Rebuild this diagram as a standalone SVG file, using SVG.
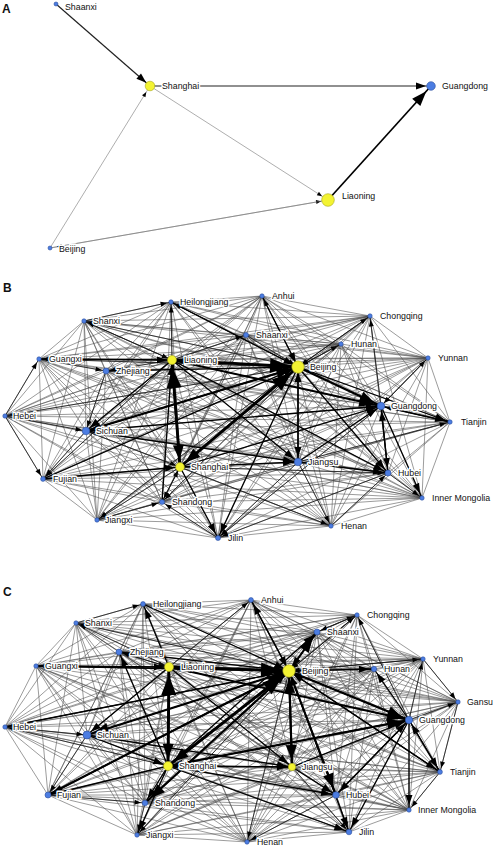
<svg xmlns="http://www.w3.org/2000/svg" width="493" height="850" viewBox="0 0 493 850">
<style>
text{font-family:"Liberation Sans",Arial,sans-serif;font-size:8.8px;fill:#111;paint-order:stroke;stroke:#fff;stroke-width:2.8px;stroke-linejoin:round}
.p{font-size:12px;font-weight:bold;stroke:none}
.y{fill:#f3f332;stroke:#a6a61e;stroke-width:0.6}
.b{fill:#4c7de2;stroke:#2c4f9c;stroke-width:0.6}
.thin{fill:none;stroke:#4a4a4a;stroke-width:0.55}
path.e1,path.e2,path.e3,path.e4,path.a1,path.a2,path.a3{fill:none}
.a1{stroke:#777;stroke-width:0.6;marker-end:url(#aA)}
.a2{stroke:#222;stroke-width:1.2;marker-end:url(#aM)}
.a3{stroke:#000;stroke-width:1.7;marker-end:url(#aL)}
.e1{stroke:#111;stroke-width:0.75;marker-end:url(#aS)}
.e2{stroke:#000;stroke-width:1.3;marker-end:url(#aM)}
.e3{stroke:#000;stroke-width:2.1;marker-end:url(#aL)}
.e4{stroke:#000;stroke-width:2.9;marker-end:url(#aX)}
</style>
<defs>
<marker id="aA" markerUnits="userSpaceOnUse" markerWidth="14" markerHeight="6" refX="12" refY="2" orient="auto" overflow="visible"><path d="M0 0L5 2L0 4z" fill="#000"/></marker>
<marker id="aS" markerUnits="userSpaceOnUse" markerWidth="14" markerHeight="6" refX="10.5" refY="2.5" orient="auto" overflow="visible"><path d="M0 0L6.5 2.5L0 5z" fill="#000"/></marker>
<marker id="aM" markerUnits="userSpaceOnUse" markerWidth="16" markerHeight="8" refX="15" refY="3.5" orient="auto" overflow="visible"><path d="M0 0L10 3.5L0 7z" fill="#000"/></marker>
<marker id="aL" markerUnits="userSpaceOnUse" markerWidth="24" markerHeight="12" refX="22" refY="5.5" orient="auto" overflow="visible"><path d="M0 0L15 5.5L0 11z" fill="#000"/></marker>
<marker id="aX" markerUnits="userSpaceOnUse" markerWidth="30" markerHeight="16" refX="28" refY="7.5" orient="auto" overflow="visible"><path d="M0 0L20 7.5L0 15z" fill="#000"/></marker>
</defs>
<rect width="493" height="850" fill="#fff"/>

<text class="p" x="2" y="13">A</text>
<text class="p" x="3" y="292">B</text>
<text class="p" x="3" y="596">C</text>

<g id="connectors-A">
<path class="a1" d="M150 86L328 200"/>
<path class="a1" d="M50 248L150 86"/>
<path class="a1" d="M50 248L328 200"/>
<path class="a1" d="M328 200L50 248"/>
<path class="a2" d="M56 4L150 86"/>
<path class="a2" d="M150 86L431 86"/>
<path class="a3" d="M328 200L431 86"/>
</g>

<g id="connectors-B">
<path class="thin" d="M171 302 262 296M171 302 84 321M171 302 370 316M171 302 246 335M171 302 341 344M171 302 39 359M171 302 172 360M171 302 298 367M171 302 428 358M171 302 106 371M171 302 381 406M171 302 5 416M171 302 450 422M171 302 86 431M171 302 298 462M171 302 180 467M171 302 388 473M171 302 43 479M171 302 422 498M171 302 162 502M171 302 97 520M171 302 331 526M171 302 218 538
M262 296 84 321M262 296 370 316M262 296 246 335M262 296 341 344M262 296 39 359M262 296 172 360M262 296 298 367M262 296 428 358M262 296 106 371M262 296 381 406M262 296 5 416M262 296 450 422M262 296 86 431M262 296 298 462M262 296 180 467M262 296 388 473M262 296 43 479M262 296 422 498M262 296 162 502M262 296 97 520M262 296 331 526M262 296 218 538
M84 321 370 316M84 321 246 335M84 321 341 344M84 321 39 359M84 321 172 360M84 321 298 367M84 321 428 358M84 321 106 371M84 321 381 406M84 321 5 416M84 321 450 422M84 321 86 431M84 321 298 462M84 321 180 467M84 321 388 473M84 321 43 479M84 321 422 498M84 321 162 502M84 321 97 520M84 321 331 526M84 321 218 538
M370 316 246 335M370 316 341 344M370 316 39 359M370 316 172 360M370 316 298 367M370 316 428 358M370 316 106 371M370 316 381 406M370 316 5 416M370 316 450 422M370 316 86 431M370 316 298 462M370 316 180 467M370 316 388 473M370 316 43 479M370 316 422 498M370 316 162 502M370 316 97 520M370 316 331 526M370 316 218 538
M246 335 341 344M246 335 39 359M246 335 172 360M246 335 298 367M246 335 428 358M246 335 106 371M246 335 381 406M246 335 5 416M246 335 450 422M246 335 86 431M246 335 298 462M246 335 180 467M246 335 388 473M246 335 43 479M246 335 422 498M246 335 162 502M246 335 97 520M246 335 331 526M246 335 218 538
M341 344 39 359M341 344 172 360M341 344 298 367M341 344 428 358M341 344 106 371M341 344 381 406M341 344 5 416M341 344 450 422M341 344 86 431M341 344 298 462M341 344 180 467M341 344 388 473M341 344 43 479M341 344 422 498M341 344 162 502M341 344 97 520M341 344 331 526M341 344 218 538
M39 359 172 360M39 359 298 367M39 359 428 358M39 359 106 371M39 359 381 406M39 359 5 416M39 359 450 422M39 359 86 431M39 359 298 462M39 359 180 467M39 359 388 473M39 359 43 479M39 359 422 498M39 359 162 502M39 359 97 520M39 359 331 526M39 359 218 538
M172 360 298 367M172 360 428 358M172 360 106 371M172 360 381 406M172 360 5 416M172 360 450 422M172 360 86 431M172 360 298 462M172 360 180 467M172 360 388 473M172 360 43 479M172 360 422 498M172 360 162 502M172 360 97 520M172 360 331 526M172 360 218 538
M298 367 428 358M298 367 106 371M298 367 381 406M298 367 5 416M298 367 450 422M298 367 86 431M298 367 298 462M298 367 180 467M298 367 388 473M298 367 43 479M298 367 422 498M298 367 162 502M298 367 97 520M298 367 331 526M298 367 218 538
M428 358 106 371M428 358 381 406M428 358 5 416M428 358 450 422M428 358 86 431M428 358 298 462M428 358 180 467M428 358 388 473M428 358 43 479M428 358 422 498M428 358 162 502M428 358 97 520M428 358 331 526M428 358 218 538
M106 371 381 406M106 371 5 416M106 371 450 422M106 371 86 431M106 371 298 462M106 371 180 467M106 371 388 473M106 371 43 479M106 371 422 498M106 371 162 502M106 371 97 520M106 371 331 526M106 371 218 538
M381 406 5 416M381 406 450 422M381 406 86 431M381 406 298 462M381 406 180 467M381 406 388 473M381 406 43 479M381 406 422 498M381 406 162 502M381 406 97 520M381 406 331 526M381 406 218 538
M5 416 450 422M5 416 86 431M5 416 298 462M5 416 180 467M5 416 388 473M5 416 43 479M5 416 422 498M5 416 162 502M5 416 97 520M5 416 331 526M5 416 218 538
M450 422 86 431M450 422 298 462M450 422 180 467M450 422 388 473M450 422 43 479M450 422 422 498M450 422 162 502M450 422 97 520M450 422 331 526M450 422 218 538
M86 431 298 462M86 431 180 467M86 431 388 473M86 431 43 479M86 431 422 498M86 431 162 502M86 431 97 520M86 431 331 526M86 431 218 538
M298 462 180 467M298 462 388 473M298 462 43 479M298 462 422 498M298 462 162 502M298 462 97 520M298 462 331 526M298 462 218 538
M180 467 388 473M180 467 43 479M180 467 422 498M180 467 162 502M180 467 97 520M180 467 331 526M180 467 218 538
M388 473 43 479M388 473 422 498M388 473 162 502M388 473 97 520M388 473 331 526M388 473 218 538
M43 479 422 498M43 479 162 502M43 479 97 520M43 479 331 526M43 479 218 538
M422 498 162 502M422 498 97 520M422 498 331 526M422 498 218 538
M162 502 97 520M162 502 331 526M162 502 218 538M97 520 331 526M97 520 218 538M331 526 218 538"/>
<path class="e1" d="M172 360L171 302"/><path class="e1" d="M298 367L262 296"/><path class="e1" d="M298 367L84 321"/><path class="e1" d="M172 360L39 359"/><path class="e1" d="M172 360L106 371"/><path class="e1" d="M298 367L5 416"/><path class="e1" d="M86 431L43 479"/><path class="e1" d="M298 367L162 502"/><path class="e1" d="M180 467L97 520"/><path class="e1" d="M298 367L370 316"/><path class="e1" d="M298 367L341 344"/><path class="e1" d="M381 406L428 358"/><path class="e1" d="M172 360L246 335"/><path class="e1" d="M298 462L331 526"/><path class="e1" d="M180 467L331 526"/><path class="e1" d="M388 473L422 498"/><path class="e1" d="M180 467L388 473"/><path class="e1" d="M84 321L172 360"/><path class="e1" d="M5 416L86 431"/><path class="e1" d="M246 335L298 367"/><path class="e1" d="M341 344L298 367"/><path class="e1" d="M370 316L298 367"/><path class="e1" d="M298 462L450 422"/><path class="e1" d="M86 431L180 467"/><path class="e1" d="M381 406L218 538"/><path class="e1" d="M388 473L218 538"/><path class="e1" d="M450 422L381 406"/><path class="e1" d="M428 358L381 406"/><path class="e1" d="M106 371L86 431"/><path class="e1" d="M162 502L180 467"/><path class="e1" d="M97 520L162 502"/><path class="e1" d="M39 359L106 371"/><path class="e1" d="M84 321L171 302"/><path class="e1" d="M331 526L388 473"/><path class="e1" d="M218 538L162 502"/><path class="e1" d="M5 416L43 479"/><path class="e1" d="M5 416L39 359"/><path class="e1" d="M298 367L97 520"/><path class="e1" d="M172 360L43 479"/><path class="e1" d="M298 367L39 359"/><path class="e1" d="M381 406L370 316"/><path class="e1" d="M298 462L218 538"/><path class="e1" d="M172 360L84 321"/><path class="e1" d="M298 367L171 302"/><path class="e1" d="M180 467L162 502"/>
<path class="e2" d="M298 367L298 462"/><path class="e2" d="M298 462L298 367"/><path class="e2" d="M298 367L450 422"/><path class="e2" d="M298 367L388 473"/><path class="e2" d="M381 406L388 473"/><path class="e2" d="M388 473L381 406"/><path class="e2" d="M180 467L381 406"/><path class="e2" d="M180 467L298 462"/><path class="e2" d="M86 431L298 462"/><path class="e2" d="M298 367L86 431"/><path class="e2" d="M172 360L86 431"/><path class="e2" d="M106 371L298 367"/><path class="e2" d="M171 302L298 367"/><path class="e2" d="M43 479L298 367"/><path class="e2" d="M39 359L172 360"/><path class="e2" d="M162 502L172 360"/><path class="e2" d="M298 367L172 360"/><path class="e2" d="M298 462L388 473"/><path class="e2" d="M381 406L450 422"/><path class="e2" d="M172 360L388 473"/><path class="e2" d="M298 367L218 538"/><path class="e2" d="M180 467L218 538"/><path class="e2" d="M262 296L298 367"/><path class="e2" d="M381 406L422 498"/><path class="e2" d="M172 360L298 462"/><path class="e2" d="M298 462L381 406"/><path class="e2" d="M86 431L381 406"/><path class="e2" d="M43 479L180 467"/>
<path class="e3" d="M172 360L180 467"/><path class="e3" d="M298 367L180 467"/><path class="e3" d="M298 367L381 406"/><path class="e3" d="M172 360L381 406"/><path class="e3" d="M86 431L298 367"/>
<path class="e4" d="M180 467L172 360"/><path class="e4" d="M172 360L298 367"/><path class="e4" d="M180 467L298 367"/>
</g>

<g id="connectors-C">
<path class="thin" d="M143 604 251 600M143 604 76 623M143 604 357 615M143 604 317 632M143 604 119 652M143 604 423 659M143 604 36 666M143 604 169 667M143 604 374 669M143 604 289 671M143 604 458 702M143 604 409 720M143 604 5 727M143 604 87 735M143 604 292 767M143 604 168 766M143 604 440 772M143 604 48 795M143 604 336 795M143 604 145 803M143 604 409 810M143 604 349 832M143 604 137 835M143 604 247 842
M251 600 76 623M251 600 357 615M251 600 317 632M251 600 119 652M251 600 423 659M251 600 36 666M251 600 169 667M251 600 374 669M251 600 289 671M251 600 458 702M251 600 409 720M251 600 5 727M251 600 87 735M251 600 292 767M251 600 168 766M251 600 440 772M251 600 48 795M251 600 336 795M251 600 145 803M251 600 409 810M251 600 349 832M251 600 137 835M251 600 247 842
M76 623 357 615M76 623 317 632M76 623 119 652M76 623 423 659M76 623 36 666M76 623 169 667M76 623 374 669M76 623 289 671M76 623 458 702M76 623 409 720M76 623 5 727M76 623 87 735M76 623 292 767M76 623 168 766M76 623 440 772M76 623 48 795M76 623 336 795M76 623 145 803M76 623 409 810M76 623 349 832M76 623 137 835M76 623 247 842
M357 615 317 632M357 615 119 652M357 615 423 659M357 615 36 666M357 615 169 667M357 615 374 669M357 615 289 671M357 615 458 702M357 615 409 720M357 615 5 727M357 615 87 735M357 615 292 767M357 615 168 766M357 615 440 772M357 615 48 795M357 615 336 795M357 615 145 803M357 615 409 810M357 615 349 832M357 615 137 835M357 615 247 842
M317 632 119 652M317 632 423 659M317 632 36 666M317 632 169 667M317 632 374 669M317 632 289 671M317 632 458 702M317 632 409 720M317 632 5 727M317 632 87 735M317 632 292 767M317 632 168 766M317 632 440 772M317 632 48 795M317 632 336 795M317 632 145 803M317 632 409 810M317 632 349 832M317 632 137 835M317 632 247 842
M119 652 423 659M119 652 36 666M119 652 169 667M119 652 374 669M119 652 289 671M119 652 458 702M119 652 409 720M119 652 5 727M119 652 87 735M119 652 292 767M119 652 168 766M119 652 440 772M119 652 48 795M119 652 336 795M119 652 145 803M119 652 409 810M119 652 349 832M119 652 137 835M119 652 247 842
M423 659 36 666M423 659 169 667M423 659 374 669M423 659 289 671M423 659 458 702M423 659 409 720M423 659 5 727M423 659 87 735M423 659 292 767M423 659 168 766M423 659 440 772M423 659 48 795M423 659 336 795M423 659 145 803M423 659 409 810M423 659 349 832M423 659 137 835M423 659 247 842
M36 666 169 667M36 666 374 669M36 666 289 671M36 666 458 702M36 666 409 720M36 666 5 727M36 666 87 735M36 666 292 767M36 666 168 766M36 666 440 772M36 666 48 795M36 666 336 795M36 666 145 803M36 666 409 810M36 666 349 832M36 666 137 835M36 666 247 842
M169 667 374 669M169 667 289 671M169 667 458 702M169 667 409 720M169 667 5 727M169 667 87 735M169 667 292 767M169 667 168 766M169 667 440 772M169 667 48 795M169 667 336 795M169 667 145 803M169 667 409 810M169 667 349 832M169 667 137 835M169 667 247 842
M374 669 289 671M374 669 458 702M374 669 409 720M374 669 5 727M374 669 87 735M374 669 292 767M374 669 168 766M374 669 440 772M374 669 48 795M374 669 336 795M374 669 145 803M374 669 409 810M374 669 349 832M374 669 137 835M374 669 247 842
M289 671 458 702M289 671 409 720M289 671 5 727M289 671 87 735M289 671 292 767M289 671 168 766M289 671 440 772M289 671 48 795M289 671 336 795M289 671 145 803M289 671 409 810M289 671 349 832M289 671 137 835M289 671 247 842
M458 702 409 720M458 702 5 727M458 702 87 735M458 702 292 767M458 702 168 766M458 702 440 772M458 702 48 795M458 702 336 795M458 702 145 803M458 702 409 810M458 702 349 832M458 702 137 835M458 702 247 842
M409 720 5 727M409 720 87 735M409 720 292 767M409 720 168 766M409 720 440 772M409 720 48 795M409 720 336 795M409 720 145 803M409 720 409 810M409 720 349 832M409 720 137 835M409 720 247 842
M5 727 87 735M5 727 292 767M5 727 168 766M5 727 440 772M5 727 48 795M5 727 336 795M5 727 145 803M5 727 409 810M5 727 349 832M5 727 137 835M5 727 247 842
M87 735 292 767M87 735 168 766M87 735 440 772M87 735 48 795M87 735 336 795M87 735 145 803M87 735 409 810M87 735 349 832M87 735 137 835M87 735 247 842
M292 767 168 766M292 767 440 772M292 767 48 795M292 767 336 795M292 767 145 803M292 767 409 810M292 767 349 832M292 767 137 835M292 767 247 842
M168 766 440 772M168 766 48 795M168 766 336 795M168 766 145 803M168 766 409 810M168 766 349 832M168 766 137 835M168 766 247 842
M440 772 48 795M440 772 336 795M440 772 145 803M440 772 409 810M440 772 349 832M440 772 137 835M440 772 247 842
M48 795 336 795M48 795 145 803M48 795 409 810M48 795 349 832M48 795 137 835M48 795 247 842
M336 795 145 803M336 795 409 810M336 795 349 832M336 795 137 835M336 795 247 842
M145 803 409 810M145 803 349 832M145 803 137 835M145 803 247 842M409 810 349 832M409 810 137 835M409 810 247 842M349 832 137 835M349 832 247 842M137 835 247 842"/>
<path class="e1" d="M169 667L36 666"/><path class="e1" d="M289 671L247 842"/><path class="e1" d="M289 671L423 659"/><path class="e1" d="M409 720L423 659"/><path class="e1" d="M409 720L458 702"/><path class="e1" d="M289 671L357 615"/><path class="e1" d="M289 671L5 727"/><path class="e1" d="M289 671L76 623"/><path class="e1" d="M119 652L169 667"/><path class="e1" d="M169 667L119 652"/><path class="e1" d="M317 632L357 615"/><path class="e1" d="M374 669L289 671"/><path class="e1" d="M357 615L317 632"/><path class="e1" d="M440 772L409 810"/><path class="e1" d="M336 795L349 832"/><path class="e1" d="M292 767L349 832"/><path class="e1" d="M145 803L137 835"/><path class="e1" d="M87 735L48 795"/><path class="e1" d="M5 727L87 735"/><path class="e1" d="M48 795L145 803"/><path class="e1" d="M76 623L143 604"/><path class="e1" d="M458 702L440 772"/><path class="e1" d="M423 659L458 702"/><path class="e1" d="M289 671L36 666"/><path class="e1" d="M169 667L76 623"/><path class="e1" d="M168 766L5 727"/><path class="e1" d="M336 795L247 842"/><path class="e1" d="M289 671L137 835"/><path class="e1" d="M169 667L251 600"/><path class="e1" d="M409 720L357 615"/><path class="e1" d="M423 659L289 671"/><path class="e1" d="M357 615L289 671"/><path class="e1" d="M87 735L289 671"/>
<path class="e2" d="M409 720L289 671"/><path class="e2" d="M169 667L87 735"/><path class="e2" d="M289 671L374 669"/><path class="e2" d="M409 720L374 669"/><path class="e2" d="M292 767L336 795"/><path class="e2" d="M168 766L336 795"/><path class="e2" d="M409 720L336 795"/><path class="e2" d="M409 720L440 772"/><path class="e2" d="M440 772L409 720"/><path class="e2" d="M289 671L440 772"/><path class="e2" d="M409 720L409 810"/><path class="e2" d="M289 671L349 832"/><path class="e2" d="M168 766L349 832"/><path class="e2" d="M409 720L349 832"/><path class="e2" d="M168 766L317 632"/><path class="e2" d="M289 671L251 600"/><path class="e2" d="M169 667L143 604"/><path class="e2" d="M168 766L119 652"/><path class="e2" d="M289 671L48 795"/><path class="e2" d="M168 766L48 795"/><path class="e2" d="M168 766L137 835"/><path class="e2" d="M143 604L289 671"/><path class="e2" d="M251 600L289 671"/><path class="e2" d="M317 632L289 671"/><path class="e2" d="M119 652L289 671"/><path class="e2" d="M36 666L289 671"/><path class="e2" d="M5 727L289 671"/><path class="e2" d="M48 795L289 671"/><path class="e2" d="M145 803L289 671"/><path class="e2" d="M336 795L289 671"/><path class="e2" d="M440 772L289 671"/><path class="e2" d="M36 666L169 667"/><path class="e2" d="M292 767L168 766"/><path class="e2" d="M87 735L168 766"/><path class="e2" d="M409 720L168 766"/><path class="e2" d="M168 766L292 767"/><path class="e2" d="M87 735L292 767"/><path class="e2" d="M169 667L292 767"/><path class="e2" d="M292 767L409 720"/><path class="e2" d="M336 795L409 720"/><path class="e2" d="M168 766L145 803"/>
<path class="e3" d="M169 667L168 766"/><path class="e3" d="M289 671L168 766"/><path class="e3" d="M292 767L289 671"/><path class="e3" d="M289 671L292 767"/><path class="e3" d="M289 671L409 720"/><path class="e3" d="M289 671L87 735"/><path class="e3" d="M289 671L336 795"/><path class="e3" d="M168 766L409 720"/><path class="e3" d="M169 667L409 720"/><path class="e3" d="M289 671L145 803"/><path class="e3" d="M289 671L317 632"/><path class="e3" d="M48 795L289 671"/><path class="e3" d="M289 671L169 667"/>
<path class="e4" d="M168 766L169 667"/><path class="e4" d="M169 667L289 671"/><path class="e4" d="M168 766L289 671"/>
</g>

<g id="nodes-A">
<g id="a-shaanxi"><circle class="b" cx="56" cy="4" r="2"/><text x="65" y="9.5">Shaanxi</text></g>
<g id="a-shanghai"><circle class="y" cx="150" cy="86" r="4.8"/><text x="162" y="89">Shanghai</text></g>
<g id="a-guangdong"><circle class="b" cx="431" cy="86" r="4.3"/><text x="442" y="89">Guangdong</text></g>
<g id="a-liaoning"><circle class="y" cx="328" cy="200" r="6.3"/><text x="342" y="199">Liaoning</text></g>
<g id="a-beijing"><circle class="b" cx="50" cy="248" r="2"/><text x="59" y="252">Beijing</text></g>
</g>

<g id="nodes-B">
<g id="b-heilongjiang"><circle class="b" cx="171" cy="302" r="2.2"/><text x="180" y="305">Heilongjiang</text></g>
<g id="b-anhui"><circle class="b" cx="262" cy="296" r="2.2"/><text x="272" y="299">Anhui</text></g>
<g id="b-shanxi"><circle class="b" cx="84" cy="321" r="2.2"/><text x="93" y="324">Shanxi</text></g>
<g id="b-chongqing"><circle class="b" cx="370" cy="316" r="2.2"/><text x="380" y="319">Chongqing</text></g>
<g id="b-shaanxi"><circle class="b" cx="246" cy="335" r="2.5"/><text x="256" y="338">Shaanxi</text></g>
<g id="b-hunan"><circle class="b" cx="341" cy="344" r="2.2"/><text x="351" y="347">Hunan</text></g>
<g id="b-guangxi"><circle class="b" cx="39" cy="359" r="2.2"/><text x="49" y="362">Guangxi</text></g>
<g id="b-liaoning"><circle class="y" cx="172" cy="360" r="4.5"/><text x="184" y="363">Liaoning</text></g>
<g id="b-beijing"><circle class="y" cx="298" cy="367" r="6.2"/><text x="310" y="370">Beijing</text></g>
<g id="b-yunnan"><circle class="b" cx="428" cy="358" r="2.2"/><text x="438" y="361">Yunnan</text></g>
<g id="b-zhejiang"><circle class="b" cx="106" cy="371" r="3"/><text x="116" y="374">Zhejiang</text></g>
<g id="b-guangdong"><circle class="b" cx="381" cy="406" r="3.8"/><text x="391" y="409">Guangdong</text></g>
<g id="b-hebei"><circle class="b" cx="5" cy="416" r="2.2"/><text x="13" y="419">Hebei</text></g>
<g id="b-tianjin"><circle class="b" cx="450" cy="422" r="2.2"/><text x="461" y="425">Tianjin</text></g>
<g id="b-sichuan"><circle class="b" cx="86" cy="431" r="3.8"/><text x="96" y="434">Sichuan</text></g>
<g id="b-jiangsu"><circle class="b" cx="298" cy="462" r="3.8"/><text x="308" y="465">Jiangsu</text></g>
<g id="b-shanghai"><circle class="y" cx="180" cy="467" r="4.4"/><text x="191" y="470">Shanghai</text></g>
<g id="b-hubei"><circle class="b" cx="388" cy="473" r="3"/><text x="398" y="476">Hubei</text></g>
<g id="b-fujian"><circle class="b" cx="43" cy="479" r="2.4"/><text x="53" y="482">Fujian</text></g>
<g id="b-innermongolia"><circle class="b" cx="422" cy="498" r="2.2"/><text x="432" y="501">Inner Mongolia</text></g>
<g id="b-shandong"><circle class="b" cx="162" cy="502" r="2.5"/><text x="172" y="505">Shandong</text></g>
<g id="b-jiangxi"><circle class="b" cx="97" cy="520" r="2.2"/><text x="105" y="523">Jiangxi</text></g>
<g id="b-henan"><circle class="b" cx="331" cy="526" r="2.2"/><text x="341" y="529">Henan</text></g>
<g id="b-jilin"><circle class="b" cx="218" cy="538" r="2.5"/><text x="228" y="541">Jilin</text></g>
</g>

<g id="nodes-C">
<g id="c-heilongjiang"><circle class="b" cx="143" cy="604" r="2.4"/><text x="153" y="607">Heilongjiang</text></g>
<g id="c-anhui"><circle class="b" cx="251" cy="600" r="2.4"/><text x="261" y="603">Anhui</text></g>
<g id="c-shanxi"><circle class="b" cx="76" cy="623" r="2.2"/><text x="85" y="626">Shanxi</text></g>
<g id="c-chongqing"><circle class="b" cx="357" cy="615" r="2.2"/><text x="367" y="618">Chongqing</text></g>
<g id="c-shaanxi"><circle class="b" cx="317" cy="632" r="3"/><text x="327" y="635">Shaanxi</text></g>
<g id="c-zhejiang"><circle class="b" cx="119" cy="652" r="3"/><text x="130" y="655">Zhejiang</text></g>
<g id="c-yunnan"><circle class="b" cx="423" cy="659" r="2.2"/><text x="433" y="662">Yunnan</text></g>
<g id="c-guangxi"><circle class="b" cx="36" cy="666" r="2.2"/><text x="45" y="669">Guangxi</text></g>
<g id="c-liaoning"><circle class="y" cx="169" cy="667" r="4.5"/><text x="181" y="670">Liaoning</text></g>
<g id="c-hunan"><circle class="b" cx="374" cy="669" r="2.7"/><text x="384" y="672">Hunan</text></g>
<g id="c-beijing"><circle class="y" cx="289" cy="671" r="6.2"/><text x="302" y="674">Beijing</text></g>
<g id="c-gansu"><circle class="b" cx="458" cy="702" r="2.2"/><text x="467" y="705">Gansu</text></g>
<g id="c-guangdong"><circle class="b" cx="409" cy="720" r="3.7"/><text x="419" y="723">Guangdong</text></g>
<g id="c-hebei"><circle class="b" cx="5" cy="727" r="2.2"/><text x="13" y="730">Hebei</text></g>
<g id="c-sichuan"><circle class="b" cx="87" cy="735" r="4"/><text x="97" y="738">Sichuan</text></g>
<g id="c-jiangsu"><circle class="y" cx="292" cy="767" r="3.7"/><text x="302" y="770">Jiangsu</text></g>
<g id="c-shanghai"><circle class="y" cx="168" cy="766" r="4.5"/><text x="179" y="769">Shanghai</text></g>
<g id="c-tianjin"><circle class="b" cx="440" cy="772" r="2.4"/><text x="450" y="775">Tianjin</text></g>
<g id="c-fujian"><circle class="b" cx="48" cy="795" r="3"/><text x="57" y="798">Fujian</text></g>
<g id="c-hubei"><circle class="b" cx="336" cy="795" r="3.3"/><text x="346" y="798">Hubei</text></g>
<g id="c-shandong"><circle class="b" cx="145" cy="803" r="2.8"/><text x="155" y="806">Shandong</text></g>
<g id="c-innermongolia"><circle class="b" cx="409" cy="810" r="2.2"/><text x="418" y="813">Inner Mongolia</text></g>
<g id="c-jilin"><circle class="b" cx="349" cy="832" r="2.8"/><text x="359" y="835">Jilin</text></g>
<g id="c-jiangxi"><circle class="b" cx="137" cy="835" r="2.2"/><text x="146" y="838">Jiangxi</text></g>
<g id="c-henan"><circle class="b" cx="247" cy="842" r="2.2"/><text x="257" y="845">Henan</text></g>
</g>
</svg>
